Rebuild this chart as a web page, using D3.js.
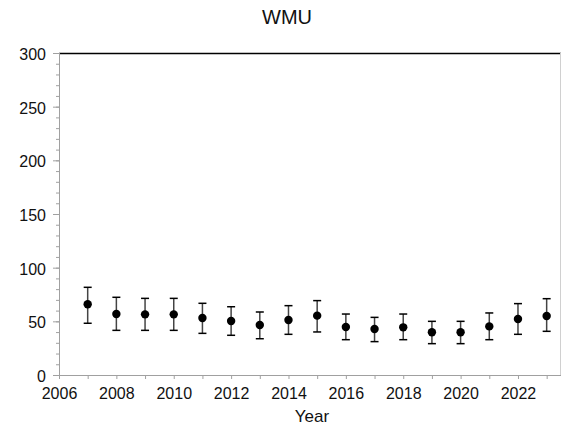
<!DOCTYPE html>
<html><head><meta charset="utf-8">
<script src="https://cdn.jsdelivr.net/npm/d3@7"></script>
<style>body{margin:0;background:#fff}svg{display:block;font-family:"Liberation Sans",Arial,sans-serif}</style>
</head><body><svg id="c" width="562" height="429"></svg>
<script>
const years = [2007,2008,2009,2010,2011,2012,2013,2014,2015,2016,2017,2018,2019,2020,2021,2022,2023];
const means = [65.9,56.8,56.5,56.5,53.1,50.3,46.6,51.2,55.3,44.7,42.9,44.4,39.8,39.8,45.3,52.2,55.0];
const upper = [81.7,72.4,71.4,71.4,66.8,63.6,58.7,64.6,69.3,56.8,53.7,56.8,50.0,50.0,57.8,66.5,71.1];
const lower = [48.2,41.6,41.6,41.6,38.8,37.0,33.8,37.9,40.1,32.9,31.1,32.9,29.2,29.2,32.9,37.9,40.7];
const xTicks = [2006,2008,2010,2012,2014,2016,2018,2020,2022];
const yTicks = [0,50,100,150,200,250,300];
const title = "WMU", xLabel = "Year";

const svg = d3.select("#c");
const L=59, R=561, T=53, B=375;
const x = d3.scaleLinear().domain([2006,2023.5]).range([L,R]);
const y = d3.scaleLinear().domain([0,300]).range([B,T]);
const axisCol = "#a0a0a0";

// top & right frame
svg.append("line").attr("x1",L).attr("x2",R).attr("y1",T+0.5).attr("y2",T+0.5).attr("stroke","#000").attr("stroke-width",1.5);
svg.append("line").attr("x1",R-0.5).attr("x2",R-0.5).attr("y1",T).attr("y2",B).attr("stroke","#d0d0d0");

// y axis
const gy = svg.append("g").attr("transform",`translate(${L},0)`);
gy.call(d3.axisLeft(y).tickValues(d3.range(0,301,10)).tickSize(3).tickFormat(""));
gy.call(g=>{g.selectAll("line").attr("stroke",axisCol);g.select(".domain").remove();});
const gy2 = svg.append("g").attr("transform",`translate(${L},0)`);
gy2.call(d3.axisLeft(y).tickValues(yTicks).tickSize(6).tickPadding(7));
gy2.select(".domain").attr("stroke",axisCol).attr("d",`M0.5,${T}V${B}`);
gy2.selectAll("line").attr("stroke",axisCol);
gy2.selectAll("text").attr("font-size",16).attr("fill","#111").attr("dy","0.4em").attr("font-family","Liberation Sans, Arial, sans-serif");

// x axis
const gx = svg.append("g").attr("transform",`translate(0,${B})`);
gx.call(d3.axisBottom(x).tickValues(d3.range(2007,2024,2)).tickSize(4).tickFormat(""));
gx.call(g=>{g.selectAll("line").attr("stroke",axisCol);g.select(".domain").remove();});
const gx2 = svg.append("g").attr("transform",`translate(0,${B})`);
gx2.call(d3.axisBottom(x).tickValues(xTicks).tickSize(4).tickPadding(9).tickFormat(d3.format("d")));
gx2.select(".domain").attr("stroke",axisCol).attr("d",`M${L},0.5H${R}`);
gx2.selectAll("line").attr("stroke",axisCol);
gx2.selectAll("text").attr("font-size",16).attr("fill","#111").attr("font-family","Liberation Sans, Arial, sans-serif");

// error bars
const data = years.map((yr,i)=>({yr,m:means[i],u:upper[i],l:lower[i]}));
const eb = svg.append("g");
eb.selectAll(".v").data(data).join("line").attr("x1",d=>x(d.yr)).attr("x2",d=>x(d.yr))
  .attr("y1",d=>y(d.u)).attr("y2",d=>y(d.l)).attr("stroke","#444").attr("stroke-width",1.5);
["u","l"].forEach(k=>{
  eb.selectAll(".c"+k).data(data).join("line").attr("x1",d=>x(d.yr)-4).attr("x2",d=>x(d.yr)+4)
    .attr("y1",d=>y(d[k])).attr("y2",d=>y(d[k])).attr("stroke","#000").attr("stroke-width",1.5);
});
eb.selectAll("circle").data(data).join("circle").attr("cx",d=>x(d.yr)).attr("cy",d=>y(d.m)).attr("r",4.2).attr("fill","#000");

svg.append("text").attr("x",287).attr("y",24).attr("text-anchor","middle").attr("font-size",20).attr("fill","#111").text(title);
svg.append("text").attr("x",312).attr("y",422).attr("text-anchor","middle").attr("font-size",17).attr("fill","#111").text(xLabel);
</script></body></html>
